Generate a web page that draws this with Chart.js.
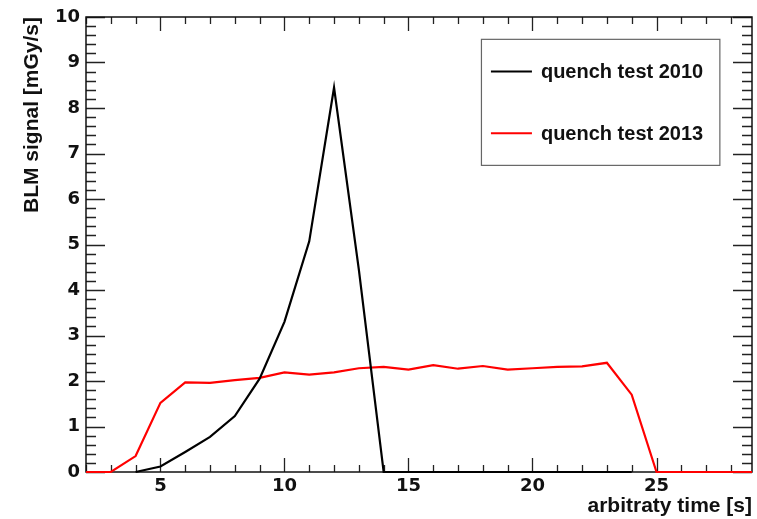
<!DOCTYPE html>
<html>
<head>
<meta charset="utf-8">
<script src="https://cdn.jsdelivr.net/npm/chart.js@4/dist/chart.umd.min.js"></script>
<style>
  html, body { margin: 0; padding: 0; background: #fff; }
  #wrap { position: relative; width: 757px; height: 519px; }
</style>
</head>
<body>
<div id="wrap"><canvas id="blm"></canvas></div>
<script>
// BLM signal during the two quench tests, sampled once per second
var TIME      = [2, 3, 4, 5, 6, 7, 8, 9, 10, 11, 12, 13, 14, 15, 16, 17, 18, 19, 20, 21, 22, 23, 24, 25, 26, 27, 28, 29];
var QT_2010   = [null, null, 0, 0.12, 0.44, 0.77, 1.23, 2.05, 3.30, 5.07, 8.45, 4.45, 0, 0, 0, 0, 0, 0, 0, 0, 0, 0, 0, null, null, null, null, null];
var QT_2013   = [0, 0, 0.35, 1.52, 1.97, 1.96, 2.02, 2.07, 2.19, 2.14, 2.19, 2.28, 2.31, 2.25, 2.35, 2.27, 2.33, 2.25, 2.28, 2.31, 2.32, 2.40, 1.70, 0, 0, 0, 0, 0];
var X_LABELS  = [5, 10, 15, 20, 25];
var Y_LABELS  = [0, 1, 2, 3, 4, 5, 6, 7, 8, 9, 10];

var TXT   = "'Liberation Sans', Arial, sans-serif";
var DIGIT = "'DejaVu Sans', sans-serif";

function pts(ys) {
  return TIME.map(function (t, i) { return { x: t, y: ys[i] }; });
}

// ROOT-style frame: closed box with inward ticks on all four sides,
// drawn under the curves so the zero-level segments stay visible
var frame = {
  id: 'frame',
  beforeDatasetsDraw: function (chart) {
    var a = chart.chartArea, ctx = chart.ctx;
    var xs = chart.scales.x, ys = chart.scales.y;
    ctx.save();
    ctx.strokeStyle = '#222';
    ctx.lineWidth = 1.3;
    ctx.beginPath();
    var v, px, len;
    for (v = 2; v <= 28; v++) {
      px = Math.round(xs.getPixelForValue(v)) + 0.5;
      len = (v % 5 === 0) ? 14 : 7;
      ctx.moveTo(px, a.bottom); ctx.lineTo(px, a.bottom - len);
      ctx.moveTo(px, a.top);    ctx.lineTo(px, a.top + len);
    }
    for (v = 0; v <= 50; v++) {
      px = Math.round(ys.getPixelForValue(v / 5)) + 0.5;
      len = (v % 5 === 0) ? 19 : 10;
      ctx.moveTo(a.left, px);  ctx.lineTo(a.left + len, px);
      ctx.moveTo(a.right, px); ctx.lineTo(a.right - len, px);
    }
    ctx.stroke();
    ctx.lineWidth = 1.5;
    ctx.strokeStyle = '#111';
    ctx.strokeRect(a.left, a.top, a.right - a.left, a.bottom - a.top);
    ctx.restore();
  }
};

// boxed legend in the upper right of the frame
var rootLegend = {
  id: 'rootLegend',
  afterDraw: function (chart) {
    var a = chart.chartArea, ctx = chart.ctx;
    var w = a.right - a.left, h = a.bottom - a.top;
    var bx = a.left + w * 0.593, by = a.top + h * 0.048;
    var bw = w * 0.358, bh = h * 0.277;
    ctx.save();
    ctx.fillStyle = '#fff';
    ctx.fillRect(bx, by, bw, bh);
    ctx.strokeStyle = '#666';
    ctx.lineWidth = 1.2;
    ctx.strokeRect(bx + 0.5, by + 0.5, bw, bh);
    ctx.font = 'bold 20px ' + TXT;
    ctx.textBaseline = 'middle';
    ctx.fillStyle = '#111';
    chart.data.datasets.forEach(function (ds, i) {
      var ly = by + bh * (i === 0 ? 0.26 : 0.75);
      ctx.strokeStyle = ds.borderColor;
      ctx.lineWidth = 2;
      ctx.beginPath();
      ctx.moveTo(bx + 10, ly); ctx.lineTo(bx + 51, ly);
      ctx.stroke();
      ctx.fillText(ds.label, bx + 60, ly + 1);
    });
    ctx.restore();
  }
};

var CLIP = { left: 0, top: 0, right: 0, bottom: 3 };

new Chart(document.getElementById('blm').getContext('2d'), {
  type: 'line',
  data: {
    datasets: [
      { label: 'quench test 2010', data: pts(QT_2010), borderColor: '#000', borderWidth: 2.2,
        pointRadius: 0, tension: 0, fill: false, spanGaps: false, clip: CLIP },
      { label: 'quench test 2013', data: pts(QT_2013), borderColor: '#ff0000', borderWidth: 2.2,
        pointRadius: 0, tension: 0, fill: false, spanGaps: false, clip: CLIP }
    ]
  },
  options: {
    responsive: true, maintainAspectRatio: false, animation: false,
    layout: { padding: { top: 17, right: 5, left: 0, bottom: 0 } },
    plugins: { legend: { display: false }, tooltip: { enabled: false } },
    scales: {
      x: {
        type: 'linear', min: 2, max: 28.85,
        grid: { display: false, drawTicks: false }, border: { display: false },
        afterBuildTicks: function (s) { s.ticks = X_LABELS.map(function (v) { return { value: v }; }); },
        afterFit: function (s) { s.height = 47; },
        ticks: { font: { family: DIGIT, size: 18, weight: 'bold' }, color: '#111', padding: 4, maxRotation: 0 },
        title: { display: true, text: 'arbitraty time [s]', align: 'end',
          font: { family: TXT, size: 21, weight: 'bold' }, color: '#111', padding: { top: 0, bottom: 0 } }
      },
      y: {
        type: 'linear', min: 0, max: 10,
        grid: { display: false, drawTicks: false }, border: { display: false },
        afterBuildTicks: function (s) { s.ticks = Y_LABELS.map(function (v) { return { value: v }; }); },
        afterFit: function (s) { s.width = 86; },
        ticks: { font: { family: DIGIT, size: 18, weight: 'bold' }, color: '#111', padding: 6 },
        title: { display: true, text: 'BLM signal [mGy/s]', align: 'end',
          font: { family: TXT, size: 21, weight: 'bold' }, color: '#111', padding: { top: 20, bottom: 0 } }
      }
    }
  },
  plugins: [frame, rootLegend]
});
</script>
</body>
</html>
